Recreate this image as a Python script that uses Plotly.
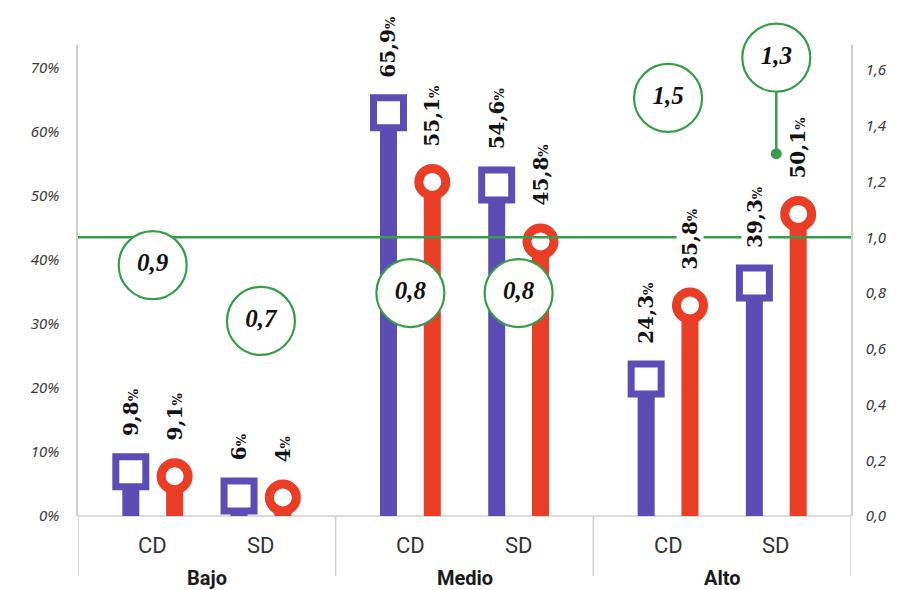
import plotly.graph_objects as go

# ---- data -------------------------------------------------------------
groups = ["Bajo", "Medio", "Alto"]
subcats = ["CD", "SD"]
purple_pct = [9.8, 6, 65.9, 54.6, 24.3, 39.3]   # Bajo CD, Bajo SD, Medio CD, ...
red_pct = [9.1, 4, 55.1, 45.8, 35.8, 50.1]
ratios = [0.9, 0.7, 0.8, 0.8, 1.5, 1.3]
left_ticks = [0, 10, 20, 30, 40, 50, 60, 70]
left_tick_text = ["0%", "10%", "20%", "30%", "40%", "50%", "60%", "70%"]
right_ticks = [0.0, 0.2, 0.4, 0.6, 0.8, 1.0, 1.2, 1.4, 1.6]
reference_ratio = 1.0

# ---- geometry / style -------------------------------------------------
W, H = 899, 590
M_L, M_R, M_T, M_B = 78, 44, 45, 74
PLOT_W = W - M_L - M_R
PLOT_H = H - M_T - M_B
Y1_MAX = 73.6
Y2_MAX = 1.69
u1 = Y1_MAX / PLOT_H      # left-axis units per pixel
u2 = Y2_MAX / PLOT_H      # right-axis units per pixel

PURPLE = "#5b4db3"
RED = "#ea3d26"
GREEN = "#3a9c4a"
AXIS_GREY = "#cfcfcf"

SUB_POS = [0.29, 0.71]     # sub-category centres inside a group (group width = 1)
PAIR_OFF = 0.085           # purple left / red right of the sub-category centre
BAR_W = 0.066
SQ_SIZE, SQ_LINE = 30, 7
CI_SIZE, CI_LINE = 27, 9
MARK_R = 18.5              # outer half-size of the end markers, px
LABEL_GAP = 15             # px between marker top and value label
CALLOUT = {5: 96}          # ratio index -> px the badge is lifted above its point

centres = [g + s for g in range(len(groups)) for s in SUB_POS]
x_purple = [c - PAIR_OFF for c in centres]
x_red = [c + PAIR_OFF for c in centres]


def fmt(v, dec=None):
    s = f"{v:.{dec}f}" if dec is not None else f"{v:g}"
    return s.replace(".", ",")


def marker_y(v):
    # marker hangs just below the value; kept above the baseline
    return max(v - MARK_R * u1, MARK_R * u1)


def marker_top(v):
    return max(v, 2 * MARK_R * u1)


fig = go.Figure()

# stems run up to the centre of their end marker
fig.add_trace(go.Bar(x=x_purple, y=[marker_y(v) for v in purple_pct], width=BAR_W,
                     marker_color=PURPLE, marker_line_width=0,
                     customdata=purple_pct, hovertemplate="%{customdata}%<extra></extra>",
                     showlegend=False))
fig.add_trace(go.Bar(x=x_red, y=[marker_y(v) for v in red_pct], width=BAR_W,
                     marker_color=RED, marker_line_width=0,
                     customdata=red_pct, hovertemplate="%{customdata}%<extra></extra>",
                     showlegend=False))

# end markers
fig.add_trace(go.Scatter(
    x=x_purple, y=[marker_y(v) for v in purple_pct], mode="markers",
    marker=dict(symbol="square", size=SQ_SIZE, color="white",
                line=dict(color=PURPLE, width=SQ_LINE)),
    cliponaxis=False, hoverinfo="skip", showlegend=False))
fig.add_trace(go.Scatter(
    x=x_red, y=[marker_y(v) for v in red_pct], mode="markers",
    marker=dict(symbol="circle", size=CI_SIZE, color="white",
                line=dict(color=RED, width=CI_LINE)),
    cliponaxis=False, hoverinfo="skip", showlegend=False))

# reference line at ratio 1,0 (right axis)
fig.add_trace(go.Scatter(x=[0, len(groups)], y=[reference_ratio] * 2, yaxis="y2",
                         mode="lines", line=dict(color=GREEN, width=2.5),
                         hoverinfo="skip", showlegend=False))

# ratio badges
badge_x, badge_y = [], []
for i, r in enumerate(ratios):
    by = r + CALLOUT.get(i, 0) * u2
    badge_x.append(centres[i])
    badge_y.append(by)
    if i in CALLOUT:
        fig.add_trace(go.Scatter(x=[centres[i], centres[i]], y=[r, by], yaxis="y2",
                                 mode="lines", line=dict(color=GREEN, width=2.5),
                                 hoverinfo="skip", showlegend=False))
        fig.add_trace(go.Scatter(x=[centres[i]], y=[r], yaxis="y2", mode="markers",
                                 marker=dict(size=11, color=GREEN),
                                 hoverinfo="skip", showlegend=False))

fig.add_trace(go.Scatter(
    x=badge_x, y=badge_y, yaxis="y2", mode="markers+text",
    text=[fmt(r, 1) for r in ratios], textposition="middle center",
    textfont=dict(family="Liberation Serif", size=25, color="#111",
                  weight="bold", style="italic"),
    marker=dict(size=68, color="white", line=dict(color=GREEN, width=2.2)),
    cliponaxis=False, hoverinfo="skip", showlegend=False))

# value labels
annotations = []
for xs, vals in ((x_purple, purple_pct), (x_red, red_pct)):
    for x, v in zip(xs, vals):
        annotations.append(dict(
            x=x, y=marker_top(v), xref="x", yref="y",
            text=f"{fmt(v)}<span style='font-size:13px'>%</span>",
            textangle=-90, showarrow=False, xanchor="center", yanchor="bottom",
            yshift=LABEL_GAP, bgcolor="white", borderpad=1,
            font=dict(family="DejaVu Serif", size=20, color="#111", weight="bold")))

# category axis labels
for gi, g in enumerate(groups):
    for si, s in enumerate(subcats):
        annotations.append(dict(
            x=gi + SUB_POS[si], y=-(545 - (H - M_B)) / PLOT_H, xref="x", yref="paper",
            text=s, showarrow=False, xanchor="center", yanchor="middle",
            font=dict(family="Roboto", size=22, color="#333")))
    annotations.append(dict(
        x=gi + 0.5, y=-(578 - (H - M_B)) / PLOT_H, xref="x", yref="paper",
        text=g, showarrow=False, xanchor="center", yanchor="middle",
        font=dict(family="Roboto", size=20, color="#1a1a1a", weight="bold")))

# group dividers and baseline
shapes = [dict(type="line", xref="x", yref="paper", x0=k, x1=k, y0=0,
               y1=-(576 - (H - M_B)) / PLOT_H, line=dict(color=AXIS_GREY, width=1.5))
          for k in range(len(groups) + 1)]
shapes.append(dict(type="line", xref="paper", yref="paper", x0=0, x1=1, y0=0, y1=0,
                   line=dict(color=AXIS_GREY, width=1.5), layer="below"))

tick_font = dict(family="Noto Sans", size=15, color="#3a3a3a", style="italic")

fig.update_layout(
    width=W, height=H, margin=dict(l=M_L, r=M_R, t=M_T, b=M_B),
    paper_bgcolor="white", plot_bgcolor="white",
    separators=",.", barmode="overlay", showlegend=False,
    xaxis=dict(range=[0, len(groups)], showticklabels=False, showgrid=False,
               zeroline=False, showline=False, fixedrange=True),
    yaxis=dict(range=[0, Y1_MAX], tickmode="array", tickvals=left_ticks,
               ticktext=left_tick_text,
               showgrid=False, zeroline=False, showline=True, linecolor=AXIS_GREY,
               linewidth=1.5, ticks="", tickfont=tick_font, ticklabelstandoff=14),
    yaxis2=dict(range=[0, Y2_MAX], tickvals=right_ticks, tickformat=".1f",
                overlaying="y", side="right", showgrid=False, zeroline=False,
                showline=True, linecolor=AXIS_GREY, linewidth=1.5, ticks="",
                tickfont=tick_font, ticklabelstandoff=10),
    annotations=annotations, shapes=shapes,
)

fig.write_html("out.html")
